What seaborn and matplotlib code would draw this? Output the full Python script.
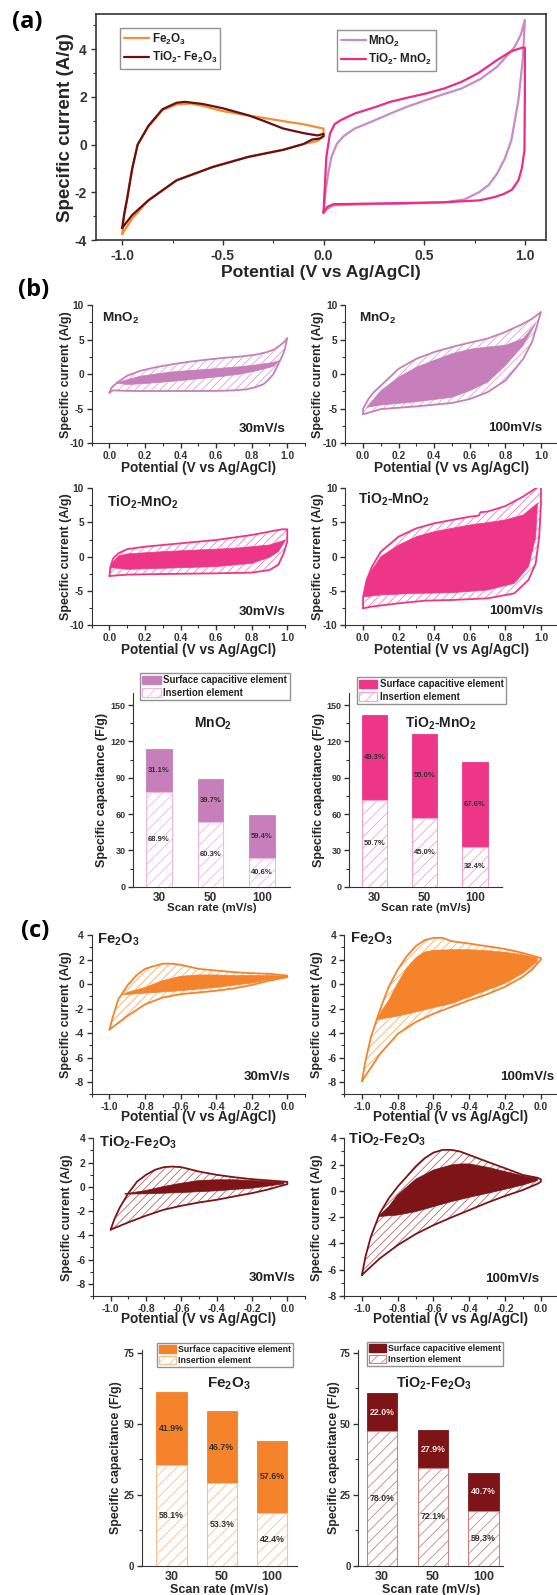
import matplotlib
matplotlib.use("Agg")
import matplotlib.pyplot as plt
import seaborn as sns
from matplotlib.patches import Patch
from matplotlib.lines import Line2D
from matplotlib.ticker import MultipleLocator

#%% data

# (a) overlay of CV loops (x: V, y: A/g)
a_fe_x = [-1.0, -0.99, -0.976, -0.95, -0.923, -0.87, -0.80, -0.73, -0.66, -0.60, -0.50, -0.375, -0.30, -0.20, -0.10, 0.0,
          0.0, -0.03, -0.10, -0.20, -0.375, -0.55, -0.73, -0.87, -0.95, -1.0]
a_fe_y = [-3.75, -3.0, -2.3, -1.0, 0.0, 0.75, 1.44, 1.68, 1.72, 1.62, 1.40, 1.22, 1.12, 0.98, 0.85, 0.67,
          0.35, 0.15, 0.02, -0.22, -0.52, -0.94, -1.5, -2.34, -3.1, -3.75]
a_tife_x = [-1.0, -0.99, -0.976, -0.95, -0.923, -0.87, -0.80, -0.73, -0.69, -0.60, -0.50, -0.375, -0.30, -0.20, -0.10, -0.03, 0.0,
            0.0, -0.02, -0.057, -0.10, -0.20, -0.375, -0.55, -0.73, -0.87, -0.95, -1.0]
a_tife_y = [-3.5, -2.9, -2.3, -1.0, 0.0, 0.78, 1.48, 1.75, 1.79, 1.70, 1.52, 1.23, 1.0, 0.67, 0.48, 0.38, 0.45,
            0.35, 0.25, 0.21, 0.02, -0.22, -0.52, -0.94, -1.5, -2.34, -2.95, -3.5]
a_mn_x = [0.0, 0.01, 0.023, 0.04, 0.067, 0.10, 0.155, 0.25, 0.332, 0.42, 0.509, 0.60, 0.686, 0.78, 0.862, 0.92, 0.95, 0.98, 1.0,
          0.99, 0.968, 0.933, 0.90, 0.862, 0.82, 0.774, 0.70, 0.60, 0.40, 0.20, 0.05, 0.02, 0.0]
a_mn_y = [-2.85, -2.0, -1.22, -0.5, 0.04, 0.35, 0.67, 1.0, 1.3, 1.6, 1.86, 2.12, 2.35, 2.75, 3.26, 3.8, 4.1, 4.6, 5.22,
          3.6, 1.86, 0.18, -0.6, -1.22, -1.7, -1.99, -2.3, -2.42, -2.48, -2.5, -2.55, -2.7, -2.85]
a_timn_x = [0.0, 0.005, 0.014, 0.032, 0.055, 0.085, 0.155, 0.25, 0.332, 0.42, 0.509, 0.60, 0.686, 0.77, 0.862, 0.93, 0.986, 1.0,
            1.0, 0.998, 0.985, 0.968, 0.935, 0.898, 0.85, 0.774, 0.60, 0.40, 0.20, 0.05, 0.02, 0.0]
a_timn_y = [-2.85, -2.0, -0.52, 0.46, 0.85, 1.02, 1.3, 1.55, 1.79, 1.97, 2.14, 2.35, 2.63, 3.0, 3.54, 3.9, 4.06, 4.06,
            2.0, -0.24, -1.0, -1.5, -1.9, -2.06, -2.2, -2.34, -2.42, -2.45, -2.48, -2.5, -2.6, -2.85]

# (b) MnO2 30 mV/s
mn30_out_x = [0.0, 0.01, 0.043, 0.099, 0.174, 0.26, 0.361, 0.45, 0.548, 0.64, 0.735, 0.82, 0.884, 0.93, 0.959, 0.985, 1.0,
              0.987, 0.975, 0.959, 0.94, 0.922, 0.895, 0.866, 0.82, 0.772, 0.70, 0.60, 0.50, 0.40, 0.30, 0.174, 0.10, 0.05, 0.02, 0.0]
mn30_out_y = [-2.68, -2.0, -1.22, -0.24, 0.49, 1.0, 1.46, 1.8, 2.1, 2.35, 2.54, 2.8, 3.17, 3.6, 4.15, 4.7, 5.22,
              3.66, 2.8, 1.95, 0.9, 0.0, -0.8, -1.46, -1.9, -2.2, -2.35, -2.42, -2.44, -2.44, -2.44, -2.44, -2.42, -2.38, -2.34, -2.68]
mn30_in_x = [0.035, 0.10, 0.174, 0.27, 0.361, 0.45, 0.548, 0.64, 0.735, 0.83, 0.922, 0.955,
             0.922, 0.83, 0.735, 0.64, 0.548, 0.45, 0.361, 0.27, 0.174, 0.10, 0.035]
mn30_in_y = [-1.3, -0.8, -0.3, 0.05, 0.34, 0.52, 0.69, 0.88, 1.08, 1.35, 1.7, 1.95,
             1.12, 0.5, 0.0, -0.3, -0.55, -0.8, -1.02, -1.22, -1.4, -1.5, -1.3]

# (b) MnO2 100 mV/s
mn100_out_x = [0.0, 0.0, 0.03, 0.06, 0.10, 0.20, 0.30, 0.40, 0.50, 0.60, 0.70, 0.80, 0.90, 0.95, 1.0,
               0.975, 0.95, 0.90, 0.85, 0.80, 0.70, 0.60, 0.50, 0.30, 0.10, 0.0]
mn100_out_y = [-5.8, -5.0, -3.6, -2.6, -1.65, 0.78, 2.23, 3.2, 3.93, 4.56, 5.15, 6.1, 7.3, 8.0, 9.0,
               6.8, 4.66, 2.23, 0.6, -0.92, -2.6, -3.6, -4.17, -4.66, -5.05, -5.8]
mn100_in_x = [0.02, 0.10, 0.20, 0.30, 0.40, 0.50, 0.60, 0.70, 0.80, 0.90, 0.97,
              0.90, 0.80, 0.70, 0.60, 0.50, 0.30, 0.10, 0.02]
mn100_in_y = [-4.8, -2.4, -0.44, 1.0, 2.0, 2.96, 3.6, 3.93, 4.17, 5.15, 7.3,
              4.17, 1.26, -1.17, -2.38, -3.35, -3.98, -4.47, -4.8]

# (b) TiO2-MnO2 30 mV/s
timn30_out_x = [0.0, 0.005, 0.02, 0.05, 0.10, 0.20, 0.40, 0.60, 0.80, 0.90, 0.97, 1.0,
                1.0, 0.98, 0.95, 0.90, 0.80, 0.60, 0.30, 0.10, 0.0]
timn30_out_y = [-2.83, -1.5, -0.3, 0.5, 1.1, 1.46, 1.95, 2.44, 3.17, 3.66, 4.0, 4.0,
                2.2, 0.5, -1.2, -1.95, -2.34, -2.44, -2.54, -2.63, -2.83]
timn30_in_x = [0.01, 0.05, 0.10, 0.30, 0.50, 0.70, 0.90, 0.99,
               0.95, 0.90, 0.80, 0.60, 0.30, 0.10, 0.01]
timn30_in_y = [-1.2, 0.1, 0.4, 0.73, 0.98, 1.22, 1.7, 2.44,
               0.73, -0.1, -0.98, -1.46, -1.7, -1.85, -1.6]

# (b) TiO2-MnO2 100 mV/s
timn100_out_x = [0.0, 0.0, 0.02, 0.05, 0.10, 0.20, 0.30, 0.40, 0.50, 0.60, 0.65, 0.66, 0.70, 0.80, 0.90, 1.0,
                 1.0, 0.99, 0.97, 0.93, 0.85, 0.70, 0.50, 0.35, 0.20, 0.05, 0.0]
timn100_out_y = [-7.56, -5.85, -3.4, -1.46, 0.73, 2.93, 4.15, 4.88, 5.37, 5.85, 6.0, 6.5, 6.6, 7.4, 8.8, 10.5,
                 7.8, 2.9, -1.0, -3.4, -5.37, -6.1, -6.34, -6.44, -6.83, -7.3, -7.56]
timn100_in_x = [0.0, 0.02, 0.05, 0.10, 0.20, 0.30, 0.40, 0.50, 0.60, 0.70, 0.80, 0.90, 0.98,
                0.97, 0.93, 0.85, 0.70, 0.50, 0.30, 0.10, 0.0]
timn100_in_y = [-5.9, -3.4, -1.95, 0.0, 1.7, 2.93, 3.66, 4.15, 4.63, 4.98, 5.37, 6.1, 7.8,
                2.9, -1.46, -3.9, -4.88, -5.27, -5.37, -5.6, -5.9]

# (c) Fe2O3 30 mV/s
fe30_out_x = [-1.0, -0.98, -0.95, -0.9, -0.85, -0.8, -0.75, -0.7, -0.65, -0.6, -0.5, -0.4, -0.3, -0.2, -0.1, 0.0,
              0.0, -0.1, -0.2, -0.3, -0.4, -0.5, -0.6, -0.7, -0.8, -0.9, -1.0]
fe30_out_y = [-3.72, -2.62, -1.24, -0.14, 0.69, 1.24, 1.46, 1.66, 1.66, 1.57, 1.24, 1.1, 0.97, 0.88, 0.83, 0.69,
              0.55, 0.28, -0.08, -0.36, -0.55, -0.69, -0.83, -1.1, -1.66, -2.62, -3.72]
fe30_in_x = [-0.925, -0.9, -0.8, -0.7, -0.6, -0.5, -0.4, -0.3, -0.1, 0.0,
             -0.1, -0.2, -0.4, -0.6, -0.8, -0.925]
fe30_in_y = [-0.88, -0.69, -0.28, 0.28, 0.63, 0.74, 0.74, 0.69, 0.69, 0.63,
             0.36, 0.08, -0.28, -0.55, -0.74, -0.88]

# (c) Fe2O3 100 mV/s
fe100_out_x = [-1.0, -0.98, -0.95, -0.9, -0.85, -0.8, -0.75, -0.7, -0.65, -0.6, -0.55, -0.5, -0.4, -0.3, -0.2, -0.1, 0.0,
               0.0, -0.05, -0.1, -0.2, -0.3, -0.4, -0.5, -0.6, -0.7, -0.8, -0.9, -1.0]
fe100_out_y = [-7.93, -6.28, -4.35, -2.15, -0.22, 1.16, 2.26, 3.08, 3.58, 3.77, 3.77, 3.5, 3.3, 3.08, 2.86, 2.53, 2.12,
               2.0, 1.16, 0.6, -0.22, -0.83, -1.32, -1.87, -2.42, -3.11, -4.07, -5.73, -7.93]
fe100_in_x = [-0.92, -0.85, -0.8, -0.75, -0.7, -0.65, -0.6, -0.5, -0.4, -0.3, -0.2, -0.1, -0.02,
              -0.02, -0.1, -0.2, -0.3, -0.4, -0.5, -0.6, -0.7, -0.8, -0.92]
fe100_in_y = [-2.92, -1.32, 0.06, 1.29, 2.12, 2.61, 2.75, 2.8, 2.8, 2.72, 2.59, 2.39, 2.12,
              1.84, 0.88, 0.06, -0.5, -1.05, -1.6, -1.93, -2.29, -2.62, -2.92]

# (c) TiO2-Fe2O3 30 mV/s
tife30_out_x = [-1.0, -0.98, -0.95, -0.9, -0.85, -0.8, -0.75, -0.7, -0.65, -0.6, -0.5, -0.4, -0.3, -0.2, -0.1, 0.0,
                0.0, -0.05, -0.1, -0.2, -0.3, -0.4, -0.5, -0.6, -0.7, -0.8, -0.9, -1.0]
tife30_out_y = [-3.53, -2.71, -1.75, -0.52, 0.44, 0.99, 1.4, 1.62, 1.67, 1.62, 1.26, 0.99, 0.79, 0.63, 0.52, 0.41,
                0.22, 0.03, -0.19, -0.52, -0.79, -1.07, -1.29, -1.56, -1.89, -2.38, -2.93, -3.53]
tife30_in_x = [-0.92, -0.8, -0.7, -0.6, -0.5, -0.4, -0.3, -0.2, -0.1, -0.02,
               -0.02, -0.1, -0.2, -0.4, -0.6, -0.8, -0.92]
tife30_in_y = [-0.58, -0.3, 0.03, 0.3, 0.52, 0.58, 0.58, 0.52, 0.44, 0.36,
               0.25, 0.08, -0.11, -0.33, -0.47, -0.58, -0.6]

# (c) TiO2-Fe2O3 100 mV/s
tife100_out_x = [-1.0, -0.98, -0.95, -0.9, -0.85, -0.8, -0.75, -0.7, -0.65, -0.6, -0.55, -0.5, -0.45, -0.4, -0.3, -0.2, -0.1, -0.02, 0.0,
                 0.0, -0.02, -0.1, -0.2, -0.3, -0.4, -0.5, -0.6, -0.7, -0.8, -0.9, -1.0]
tife100_out_y = [-6.4, -5.0, -3.49, -1.71, -0.57, 0.32, 1.08, 1.85, 2.48, 2.91, 3.12, 3.12, 2.99, 2.73, 2.22, 1.72, 1.21, 1.0, 0.88,
                 0.7, 0.53, 0.07, -0.39, -0.9, -1.46, -2.02, -2.61, -3.29, -4.13, -5.14, -6.4]
tife100_in_x = [-0.91, -0.85, -0.8, -0.7, -0.6, -0.5, -0.45, -0.4, -0.3, -0.2, -0.1, -0.02,
                -0.02, -0.1, -0.2, -0.3, -0.4, -0.5, -0.6, -0.7, -0.8, -0.91]
tife100_in_y = [-1.96, -1.2, -0.31, 0.88, 1.59, 1.97, 2.05, 2.05, 1.8, 1.47, 1.14, 0.96,
                0.78, 0.45, 0.12, -0.19, -0.49, -0.82, -1.2, -1.58, -1.84, -1.96]

# bar charts: scan rates, total capacitance, insertion part (F/g), percent labels
rates = ["30", "50", "100"]
mn_total = [114, 89, 59]
mn_insert = [78.5, 53.5, 24]
mn_surf_pct = ["31.1%", "39.7%", "59.4%"]
mn_ins_pct = ["68.9%", "60.3%", "40.6%"]
timn_total = [142, 126.5, 103]
timn_insert = [72, 57, 33]
timn_surf_pct = ["49.3%", "55.0%", "67.6%"]
timn_ins_pct = ["50.7%", "45.0%", "32.4%"]
fe_total = [61, 54.5, 44]
fe_insert = [35.4, 29, 18.5]
fe_surf_pct = ["41.9%", "46.7%", "57.6%"]
fe_ins_pct = ["58.1%", "53.3%", "42.4%"]
tife_total = [60.7, 47.7, 32.7]
tife_insert = [47.4, 34.4, 19.4]
tife_surf_pct = ["22.0%", "27.9%", "40.7%"]
tife_ins_pct = ["78.0%", "72.1%", "59.3%"]

#%% style

sns.set_style('ticks')
plt.rcParams['font.family'] = ['Liberation Sans', 'DejaVu Sans']
plt.rcParams['font.weight'] = 'bold'
plt.rcParams['axes.labelweight'] = 'bold'
plt.rcParams['axes.unicode_minus'] = False
plt.rcParams['mathtext.fontset'] = 'custom'
plt.rcParams['mathtext.rm'] = 'Liberation Sans:bold'
plt.rcParams['mathtext.bf'] = 'Liberation Sans:bold'
plt.rcParams['mathtext.default'] = 'bf'
plt.rcParams['hatch.linewidth'] = 0.6
plt.rcParams['axes.edgecolor'] = '#333333'
plt.rcParams['xtick.color'] = '#333333'
plt.rcParams['ytick.color'] = '#333333'
plt.rcParams['text.color'] = '#222222'

C_MN, C_MN_H = '#c67fba', '#d9a2d2'
C_TIMN, C_TIMN_H = '#ee3689', '#f27fb3'
C_FE, C_FE_H = '#f4832b', '#f7ad72'
C_TIFE, C_TIFE_H = '#7c1418', '#b4676a'

W, H = 557, 1595
fig = plt.figure(figsize=(W / 100, H / 100), dpi=100)


def add_ax(x0, x1, y0, y1):
    return fig.add_axes([x0 / W, 1 - y1 / H, (x1 - x0) / W, (y1 - y0) / H])


def style_ticks(ax, size, pad=2):
    ax.tick_params(which='major', direction='out', length=3.5, width=1, labelsize=size, pad=pad)
    ax.tick_params(which='minor', direction='out', length=2, width=0.8)
    for lab in ax.get_xticklabels() + ax.get_yticklabels():
        lab.set_fontweight('bold')


def cv_panel(ax, ox, oy, ix, iy, col, hcol, xlim, ylim, name, rate, name_pos, rate_pos, xmajor, ymajor, name_size):
    ax.fill(ox, oy, facecolor='white', edgecolor=hcol, hatch='////', lw=0, zorder=1)
    ax.fill(ix, iy, facecolor=col, edgecolor=col, lw=0.5, zorder=2)
    sns.lineplot(x=ox, y=oy, sort=False, estimator=None, color=col, lw=1.3, ax=ax, zorder=3)
    ax.set_xlim(xlim)
    ax.set_ylim(ylim)
    ax.xaxis.set_major_locator(MultipleLocator(xmajor))
    ax.xaxis.set_minor_locator(MultipleLocator(xmajor / 2))
    ax.yaxis.set_major_locator(MultipleLocator(ymajor))
    ax.yaxis.set_minor_locator(MultipleLocator(ymajor / 2))
    sns.despine(ax=ax)
    ax.text(name_pos[0], name_pos[1], name, transform=ax.transAxes, ha='left', va='center',
            fontsize=name_size, fontweight='bold')
    ax.text(rate_pos[0], rate_pos[1], rate, transform=ax.transAxes, ha='right', va='center',
            fontsize=9.6, fontweight='bold')
    ax.set_xlabel('Potential (V vs Ag/AgCl)', fontsize=9.8)
    ax.set_ylabel('Specific current (A/g)', fontsize=9)
    ax.yaxis.set_label_coords(-0.094, 0.5)
    style_ticks(ax, 7.4)


def bar_panel(ax, total, insert, surf_pct, ins_pct, col, hcol, edge_ins, width, ylim, ymajor, xlim,
              title, title_xy, title_size, surf_txt_col, pct_size, tick_size, xlab_size, ylab_size,
              ylab_x, xlab_y, leg_xy, leg_size):
    sns.barplot(x=rates, y=total, color=col, width=width, saturation=1, edgecolor=hcol,
                linewidth=0.6, ax=ax, zorder=2)
    sns.barplot(x=rates, y=insert, color='white', width=width, saturation=1, edgecolor=edge_ins,
                linewidth=0.8, hatch='///', ax=ax, zorder=3)
    for i in range(len(rates)):
        ax.text(i, (insert[i] + total[i]) / 2, surf_pct[i], ha='center', va='center',
                fontsize=pct_size, fontweight='bold', color=surf_txt_col, zorder=5)
        ax.text(i, insert[i] / 2, ins_pct[i], ha='center', va='center',
                fontsize=pct_size, fontweight='bold', color='#333333', zorder=5)
    ax.set_xlim(xlim)
    ax.set_ylim(ylim)
    ax.yaxis.set_major_locator(MultipleLocator(ymajor))
    ax.yaxis.set_minor_locator(MultipleLocator(ymajor / 2))
    sns.despine(ax=ax)
    ax.tick_params(axis='y', which='major', direction='out', length=3.5, width=1, labelsize=tick_size - 2, pad=2)
    ax.tick_params(axis='y', which='minor', direction='out', length=2, width=0.8)
    ax.tick_params(axis='x', length=0, labelsize=tick_size, pad=4)
    for lab in ax.get_xticklabels() + ax.get_yticklabels():
        lab.set_fontweight('bold')
    ax.set_xlabel('Scan rate (mV/s)', fontsize=xlab_size)
    ax.set_ylabel('Specific capacitance (F/g)', fontsize=ylab_size)
    ax.yaxis.set_label_coords(ylab_x, 0.5)
    ax.xaxis.set_label_coords(0.5, xlab_y)
    ax.text(title_xy[0], title_xy[1], title, transform=ax.transAxes, ha='center', va='center',
            fontsize=title_size, fontweight='bold')
    handles = [Patch(facecolor=col, edgecolor=col),
               Patch(facecolor='white', edgecolor=edge_ins, hatch='///', lw=0.8)]
    leg = ax.legend(handles, ['Surface capacitive element', 'Insertion element'],
                    loc='upper left', bbox_to_anchor=(leg_xy[0] / W, 1 - leg_xy[1] / H),
                    bbox_transform=fig.transFigure, fontsize=leg_size, frameon=True, fancybox=False,
                    edgecolor='#777777', borderpad=0.25, labelspacing=0.25, handlelength=1.9,
                    handleheight=1.0, handletextpad=0.3, borderaxespad=0)
    leg.get_frame().set_linewidth(1.0)
    for t in leg.get_texts():
        t.set_fontweight('bold')


#%% (a)
ax = add_ax(96, 546, 14, 240)
sns.lineplot(x=a_fe_x, y=a_fe_y, sort=False, estimator=None, color='#f58d34', lw=1.6, ax=ax)
sns.lineplot(x=a_tife_x, y=a_tife_y, sort=False, estimator=None, color='#6a0f12', lw=1.6, ax=ax)
sns.lineplot(x=a_mn_x, y=a_mn_y, sort=False, estimator=None, color='#c98bc6', lw=1.6, ax=ax)
sns.lineplot(x=a_timn_x, y=a_timn_y, sort=False, estimator=None, color='#ec2c86', lw=1.6, ax=ax)
ax.set_xlim(-1.13, 1.105)
ax.set_ylim(-4, 5.47)
ax.xaxis.set_major_locator(MultipleLocator(0.5))
ax.xaxis.set_minor_locator(MultipleLocator(0.25))
ax.yaxis.set_major_locator(MultipleLocator(2))
ax.yaxis.set_minor_locator(MultipleLocator(1))
for s in ax.spines.values():
    s.set_linewidth(1.2)
style_ticks(ax, 10, pad=3)
ax.set_xlabel('Potential (V vs Ag/AgCl)', fontsize=12.6)
ax.set_ylabel('Specific current (A/g)', fontsize=13.5)
ax.yaxis.set_label_coords(-0.05, 0.5)
ax.xaxis.set_label_coords(0.5, -0.11)
lg1 = ax.legend([Line2D([], [], color='#f58d34', lw=1.6), Line2D([], [], color='#6a0f12', lw=1.6)],
                ['Fe$_2$O$_3$', 'TiO$_2$- Fe$_2$O$_3$'], loc='upper left',
                bbox_to_anchor=(120 / W, 1 - 28 / H), bbox_transform=fig.transFigure,
                fontsize=8.4, fancybox=False, edgecolor='#777777', borderpad=0.3, labelspacing=0.3,
                handlelength=2.2, handletextpad=0.2, borderaxespad=0)
ax.add_artist(lg1)
lg2 = ax.legend([Line2D([], [], color='#c98bc6', lw=1.6), Line2D([], [], color='#ec2c86', lw=1.6)],
                ['MnO$_2$', 'TiO$_2$- MnO$_2$'], loc='upper left',
                bbox_to_anchor=(337 / W, 1 - 30 / H), bbox_transform=fig.transFigure,
                fontsize=8.4, fancybox=False, edgecolor='#777777', borderpad=0.3, labelspacing=0.3,
                handlelength=2.2, handletextpad=0.2, borderaxespad=0)
for lg in (lg1, lg2):
    for t in lg.get_texts():
        t.set_fontweight('bold')

#%% (b) CV panels
ax = add_ax(91.7, 305, 305, 443.3)
cv_panel(ax, mn30_out_x, mn30_out_y, mn30_in_x, mn30_in_y, C_MN, C_MN_H, (-0.1, 1.1), (-10, 10),
         'MnO$_2$', '30mV/s', (0.047, 0.905), (0.906, 0.1), 0.2, 5, 9.7)
ax.xaxis.set_label_coords(0.5, -0.13)
ax = add_ax(345.3, 557, 305, 443.3)
cv_panel(ax, mn100_out_x, mn100_out_y, mn100_in_x, mn100_in_y, C_MN, C_MN_H, (-0.1, 1.09), (-10, 10),
         'MnO$_2$', '100mV/s', (0.067, 0.905), (0.928, 0.108), 0.2, 5, 9.7)
ax.yaxis.set_label_coords(-0.1, 0.5)
ax.xaxis.set_label_coords(0.5, -0.13)
ax = add_ax(91.7, 305, 488.3, 625)
cv_panel(ax, timn30_out_x, timn30_out_y, timn30_in_x, timn30_in_y, C_TIMN, C_TIMN_H, (-0.1, 1.1), (-10, 10),
         'TiO$_2$-MnO$_2$', '30mV/s', (0.07, 0.9), (0.91, 0.097), 0.2, 5, 10)
ax.xaxis.set_label_coords(0.5, -0.13)
ax = add_ax(345.3, 557, 488.3, 625)
cv_panel(ax, timn100_out_x, timn100_out_y, timn100_in_x, timn100_in_y, C_TIMN, C_TIMN_H, (-0.1, 1.09), (-10, 10),
         'TiO$_2$-MnO$_2$', '100mV/s', (0.06, 0.92), (0.933, 0.105), 0.2, 5, 10)
ax.yaxis.set_label_coords(-0.1, 0.5)
ax.xaxis.set_label_coords(0.5, -0.13)

#%% (b) bars
ax = add_ax(133.3, 290, 693, 886.7)
bar_panel(ax, mn_total, mn_insert, mn_surf_pct, mn_ins_pct, C_MN, C_MN, '#f0b6e4', 0.5, (0, 160), 30,
          (-0.5, 2.55), 'MnO$_2$', (0.51, 0.84), 10, '#333333', 5.5, 8.5, 8.2, 9, -0.16, -0.085,
          (140, 673), 6.9)
ax = add_ax(349.3, 501.7, 693, 886.7)
bar_panel(ax, timn_total, timn_insert, timn_surf_pct, timn_ins_pct, C_TIMN, C_TIMN, '#f5a3cb', 0.5, (0, 160), 30,
          (-0.5, 2.53), 'TiO$_2$-MnO$_2$', (0.6, 0.845), 10, '#333333', 5.5, 8.5, 8.2, 9, -0.16, -0.085,
          (356.7, 677), 6.9)

#%% (c) CV panels
ax = add_ax(91.7, 305, 935, 1094.3)
cv_panel(ax, fe30_out_x, fe30_out_y, fe30_in_x, fe30_in_y, C_FE, C_FE_H, (-1.1, 0.1), (-9, 4),
         'Fe$_2$O$_3$', '30mV/s', (0.023, 0.968), (0.93, 0.107), 0.2, 2, 10.6)
ax.xaxis.set_label_coords(0.5, -0.1)
ax = add_ax(344, 557, 935, 1094.3)
cv_panel(ax, fe100_out_x, fe100_out_y, fe100_in_x, fe100_in_y, C_FE, C_FE_H, (-1.1, 0.09), (-9, 4),
         'Fe$_2$O$_3$', '100mV/s', (0.028, 0.975), (0.985, 0.11), 0.2, 2, 10.6)
ax.yaxis.set_label_coords(-0.1, 0.5)
ax.xaxis.set_label_coords(0.5, -0.1)
ax = add_ax(93, 305, 1138.3, 1296)
cv_panel(ax, tife30_out_x, tife30_out_y, tife30_in_x, tife30_in_y, C_TIFE, C_TIFE_H, (-1.1, 0.1), (-9, 4),
         'TiO$_2$-Fe$_2$O$_3$', '30mV/s', (0.027, 0.975), (0.956, 0.116), 0.2, 2, 10.6)
ax.xaxis.set_label_coords(0.5, -0.1)
ax = add_ax(344, 557, 1138.3, 1296)
cv_panel(ax, tife100_out_x, tife100_out_y, tife100_in_x, tife100_in_y, C_TIFE, C_TIFE_H, (-1.1, 0.09), (-8, 4),
         'TiO$_2$-Fe$_2$O$_3$', '100mV/s', (0.02, 0.995), (0.915, 0.108), 0.2, 2, 10.6)
ax.yaxis.set_label_coords(-0.1, 0.5)
ax.xaxis.set_label_coords(0.5, -0.1)

#%% (c) bars
ax = add_ax(141.7, 297.3, 1349.9, 1565.7)
bar_panel(ax, fe_total, fe_insert, fe_surf_pct, fe_ins_pct, C_FE, C_FE, '#f9c08e', 0.6, (0, 76), 25,
          (-0.59, 2.5), 'Fe$_2$O$_3$', (0.56, 0.845), 11, '#333333', 6.3, 9, 9, 8.9, -0.128, -0.085,
          (156.7, 1342.7), 6.3)
ax = add_ax(358.3, 503.3, 1349.9, 1565.7)
bar_panel(ax, tife_total, tife_insert, tife_surf_pct, tife_ins_pct, C_TIFE, C_TIFE, '#c98585', 0.6, (0, 76), 25,
          (-0.47, 2.39), 'TiO$_2$-Fe$_2$O$_3$', (0.52, 0.845), 10.3, '#f3e6e6', 6.3, 9, 9, 8.9, -0.128, -0.085,
          (366.7, 1341.7), 6.3)

#%% panel letters
for txt, x, y in [('(a)', 27.5, 22), ('(b)', 33.5, 290), ('(c)', 35.5, 931)]:
    fig.text(x / W, 1 - y / H, txt, ha='center', va='center', fontsize=17,
             fontweight='bold', family=['Open Sans', 'DejaVu Sans'], color='black')

fig.savefig('out.png', dpi=100)
